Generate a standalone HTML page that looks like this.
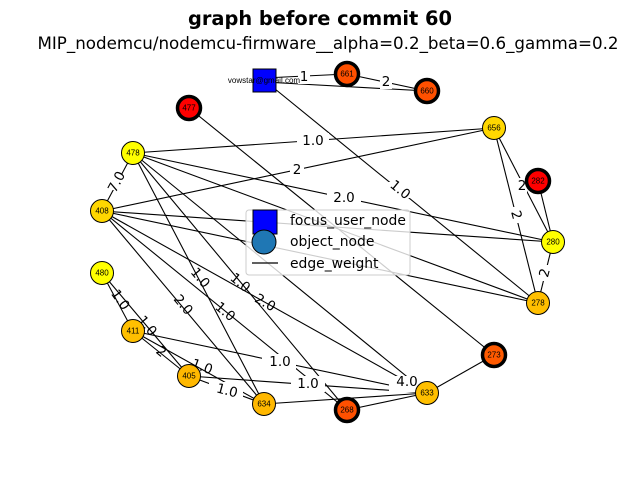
<!DOCTYPE html>
<html><head><style>body{margin:0;background:#fff}svg{display:block}</style></head><body>
<svg width="640" height="480" xmlns="http://www.w3.org/2000/svg" font-family="DejaVu Sans, Liberation Sans, sans-serif">
<text x="320" y="25" font-size="19.4" font-weight="bold" text-anchor="middle">graph before commit 60</text>
<text x="328" y="49" font-size="16.7" text-anchor="middle">MIP_nodemcu/nodemcu-firmware__alpha=0.2_beta=0.6_gamma=0.2</text>
<g stroke="#000" stroke-width="1.1">
<line x1="264" y1="78" x2="347" y2="74"/><line x1="264" y1="82" x2="427" y2="91"/><line x1="347" y1="74" x2="427" y2="91"/>
<line x1="264" y1="80" x2="538" y2="303"/>
<line x1="189" y1="108" x2="494" y2="355"/>
<line x1="133" y1="153" x2="494" y2="128"/><line x1="102" y1="211" x2="494" y2="128"/>
<line x1="133" y1="153" x2="553" y2="242"/><line x1="133" y1="153" x2="538" y2="303"/>
<line x1="133" y1="153" x2="102" y2="211"/>
<line x1="494" y1="128" x2="553" y2="242"/><line x1="494" y1="128" x2="538" y2="303"/><line x1="538" y1="181" x2="553" y2="242"/>
<line x1="553" y1="242" x2="538" y2="303"/>
<line x1="102" y1="211" x2="553" y2="242"/><line x1="102" y1="211" x2="538" y2="303"/>
<line x1="102" y1="211" x2="427" y2="393"/><line x1="102" y1="211" x2="264" y2="404"/><line x1="102" y1="211" x2="347" y2="410"/>
<line x1="133" y1="153" x2="264" y2="404"/><line x1="133" y1="153" x2="427" y2="393"/><line x1="133" y1="153" x2="347" y2="410"/>
<line x1="102" y1="273" x2="133" y2="331"/><line x1="102" y1="273" x2="189" y2="376"/>
<line x1="133" y1="331" x2="189" y2="376"/><line x1="133" y1="331" x2="264" y2="404"/><line x1="133" y1="331" x2="427" y2="393"/>
<line x1="189" y1="376" x2="264" y2="404"/><line x1="189" y1="376" x2="427" y2="393"/>
<line x1="264" y1="404" x2="427" y2="393"/><line x1="347" y1="410" x2="427" y2="393"/><line x1="427" y1="393" x2="494" y2="355"/>
</g>
<g font-size="13.5" text-anchor="middle" dominant-baseline="central">
<g fill="#fff"><rect x="298" y="70" width="12" height="14"/><rect x="380" y="75" width="12" height="14"/><rect x="297" y="133" width="32" height="16"/><rect x="290" y="162" width="14" height="16"/><rect x="327" y="190" width="34" height="16"/><rect x="385" y="182" width="32" height="16"/><rect x="105" y="174" width="22" height="16"/><rect x="515" y="178" width="12" height="16"/><rect x="510" y="207" width="12" height="16"/><rect x="539" y="265" width="12" height="16"/><rect x="262" y="354" width="34" height="16"/><rect x="291" y="376" width="34" height="16"/><rect x="209" y="382" width="34" height="16"/><rect x="389" y="376" width="34" height="16"/></g>
<text x="304" y="77">1</text><text x="386" y="82">2</text><text x="313" y="141">1.0</text><text x="297" y="170">2</text><text x="344" y="198">2.0</text><text x="400" y="190" transform="rotate(39 400 190)">1.0</text><text x="117" y="182" transform="rotate(-62 117 182)">7.0</text><text x="522" y="186">2</text><text x="516" y="215" transform="rotate(75 516 215)">2</text><text x="545" y="273" transform="rotate(-75 545 273)">2</text>
<text x="200" y="278" transform="rotate(50 200 278)">1.0</text><text x="183" y="305" transform="rotate(50 183 305)">2.0</text><text x="225" y="312" transform="rotate(40 225 312)">1.0</text><text x="240" y="283" transform="rotate(40 240 283)">1.0</text><text x="265" y="303" transform="rotate(30 265 303)">2.0</text>
<text x="120" y="300" transform="rotate(55 120 300)">1.0</text><text x="147" y="326" transform="rotate(50 147 326)">1.0</text><text x="161" y="352" transform="rotate(40 161 352)">2</text><text x="202" y="367" transform="rotate(20 202 367)">1.0</text>
<text x="280" y="362">1.0</text><text x="308" y="384">1.0</text><text x="227" y="391" transform="rotate(15 227 391)">1.0</text><text x="407" y="382">4.0</text>
</g>
<rect x="246" y="210" width="164" height="65" rx="3" fill="#fff" fill-opacity="0.8" stroke="#ccc"/>
<rect x="253" y="210" width="24" height="24" fill="#00f" stroke="#000"/>
<circle cx="264" cy="242" r="12" fill="#1f77b4" stroke="#000"/>
<line x1="252" y1="263" x2="278" y2="263" stroke="#000" stroke-width="1.2"/>
<g font-size="13.9"><text x="290" y="225">focus_user_node</text><text x="290" y="246">object_node</text><text x="290" y="268">edge_weight</text></g>
<rect x="253" y="69" width="23" height="23" fill="#00f" stroke="#000"/>
<text x="264" y="83" font-size="8" text-anchor="middle" font-family="Liberation Sans, sans-serif">vowstar@gmail.com</text>
<g stroke="#000" font-size="8" text-anchor="middle">
<g stroke-width="3.5"><circle cx="347" cy="74" r="11.5" fill="#ff5000"/><circle cx="427" cy="91" r="11.5" fill="#ff5000"/><circle cx="189" cy="108" r="11.5" fill="#ff0000"/><circle cx="538" cy="181" r="11.5" fill="#ff0000"/><circle cx="494" cy="355" r="11.5" fill="#ff5a00"/><circle cx="347" cy="410" r="11.5" fill="#ff5000"/></g>
<g stroke-width="1"><circle cx="494" cy="128" r="11.5" fill="#ffd700"/><circle cx="133" cy="153" r="11.5" fill="#ffff00"/><circle cx="102" cy="211" r="11.5" fill="#ffd700"/><circle cx="553" cy="242" r="11.5" fill="#ffff00"/><circle cx="102" cy="273" r="11.5" fill="#ffff00"/><circle cx="538" cy="303" r="11.5" fill="#ffbf00"/><circle cx="133" cy="331" r="11.5" fill="#ffbf00"/><circle cx="189" cy="376" r="11.5" fill="#ffb800"/><circle cx="264" cy="404" r="11.5" fill="#ffb800"/><circle cx="427" cy="393" r="11.5" fill="#ffbf00"/></g>
</g>
<g font-size="8" text-anchor="middle" dominant-baseline="central" font-family="Liberation Sans, sans-serif">
<text x="347" y="74">661</text><text x="427" y="91">660</text><text x="189" y="108">477</text><text x="538" y="181">282</text><text x="494" y="355">273</text><text x="347" y="410">268</text><text x="494" y="128">656</text><text x="133" y="153">478</text><text x="102" y="211">408</text><text x="553" y="242">280</text><text x="102" y="273">480</text><text x="538" y="303">278</text><text x="133" y="331">411</text><text x="189" y="376">405</text><text x="264" y="404">634</text><text x="427" y="393">633</text>
</g>
</svg>
</body></html>
